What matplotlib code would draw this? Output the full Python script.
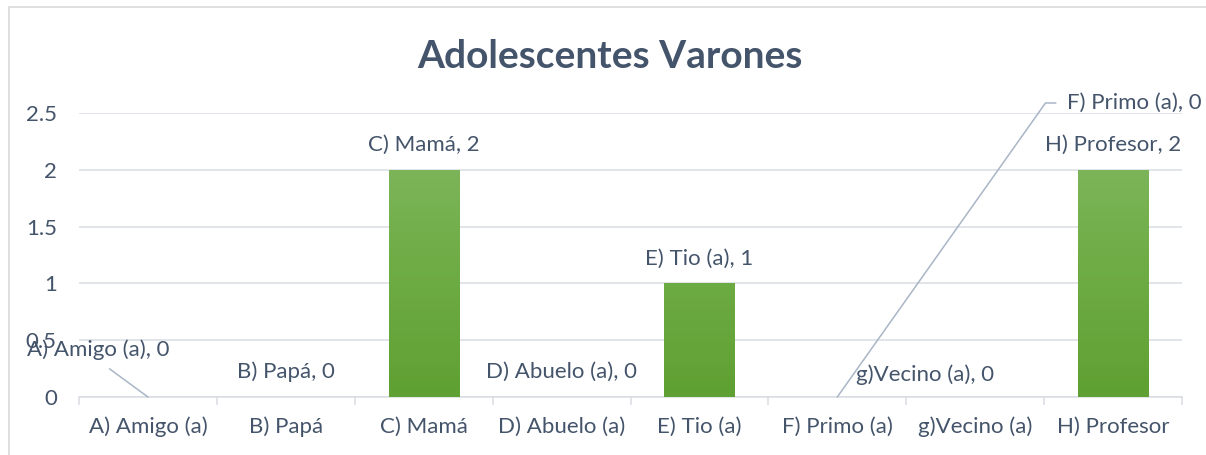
import matplotlib.pyplot as plt
import numpy as np
from matplotlib.colors import LinearSegmentedColormap
from matplotlib.patches import Rectangle

# data
categories = ['A) Amigo (a)', 'B) Papá', 'C) Mamá', 'D) Abuelo (a)',
              'E) Tio (a)', 'F) Primo (a)', 'g)Vecino (a)', 'H) Profesor']
values = [0, 0, 2, 0, 1, 0, 0, 2]
yticks = [0, 0.5, 1, 1.5, 2, 2.5]
ytick_labels = ['0', '0.5', '1', '1.5', '2', '2.5']

# label offsets in pixels (dx, dy) relative to bar top
label_offsets = {
    'A) Amigo (a)': (-50, 47),
    'F) Primo (a)': (297, 294),
    'g)Vecino (a)': (-50, 22),
}

plt.rcParams['font.family'] = ['Lato', 'DejaVu Sans']
text_color = '#44546A'
grid_color = '#D9DDE3'
leader_color = '#A9B6C6'

fig = plt.figure(figsize=(12.06, 4.55), dpi=100)
ax = fig.add_axes([79 / 1206, 58 / 455, 1103 / 1206, 284 / 455])

x = np.arange(len(categories))
bars = ax.bar(x, values, width=0.51, color='#70AD47', zorder=2)

# vertical gradient on bars
cmap = LinearSegmentedColormap.from_list('g', ['#5FA032', '#70AD47', '#84BA66'])
grad = np.linspace(0, 1, 256).reshape(-1, 1)
for b in bars:
    if b.get_height() <= 0:
        continue
    im = ax.imshow(grad, extent=[b.get_x(), b.get_x() + b.get_width(), 0, 2.5],
                   origin='lower', aspect='auto', cmap=cmap, zorder=3)
    im.set_clip_path(b)

ax.set_xlim(-0.5, len(categories) - 0.5)
ax.set_ylim(0, 2.5)

ax.set_yticks(yticks)
ax.set_yticklabels(ytick_labels)
ax.yaxis.grid(True, color=grid_color, linewidth=1.1)
ax.set_axisbelow(True)
ax.tick_params(axis='y', length=0, pad=16, labelsize=16, labelcolor=text_color)

ax.set_xticks(x)
ax.set_xticklabels(categories)
ax.set_xticks(np.arange(len(categories) + 1) - 0.5, minor=True)
ax.tick_params(axis='x', which='major', length=0, pad=14, labelsize=16, labelcolor=text_color)
ax.tick_params(axis='x', which='minor', length=6, width=1.1, color=grid_color, direction='out')

for s in ['top', 'right', 'left']:
    ax.spines[s].set_visible(False)
ax.spines['bottom'].set_color(grid_color)
ax.spines['bottom'].set_linewidth(1.1)

# data labels
for i, (cat, v) in enumerate(zip(categories, values)):
    dx, dy = label_offsets.get(cat, (0, 25))
    kw = dict(xy=(i, v), xytext=(dx * 0.72, dy * 0.72), textcoords='offset points',
              ha='center', va='center', fontsize=16, color=text_color,
              annotation_clip=False, zorder=5)
    if cat == 'A) Amigo (a)':
        kw['arrowprops'] = dict(arrowstyle='-', color=leader_color, lw=1.1,
                                relpos=(0.5, 0), shrinkA=7, shrinkB=0)
    elif cat == 'F) Primo (a)':
        kw['arrowprops'] = dict(arrowstyle='-', color=leader_color, lw=1.1,
                                relpos=(0, 0.5), shrinkA=6, shrinkB=0,
                                connectionstyle='angle,angleA=0,angleB=54.7,rad=0')
    ax.annotate(f'{cat}, {v}', **kw)

fig.text(0.506, 398 / 455, 'Adolescentes Varones', ha='center', va='center',
         fontsize=28, fontweight='bold', color=text_color)

# chart area border
fig.patches.append(Rectangle((9 / 1206, -0.1), 1.2, 448 / 455 + 0.1,
                             transform=fig.transFigure, fill=False,
                             edgecolor='#D9D9D9', linewidth=1.2))

fig.savefig('out.png', dpi=100)
